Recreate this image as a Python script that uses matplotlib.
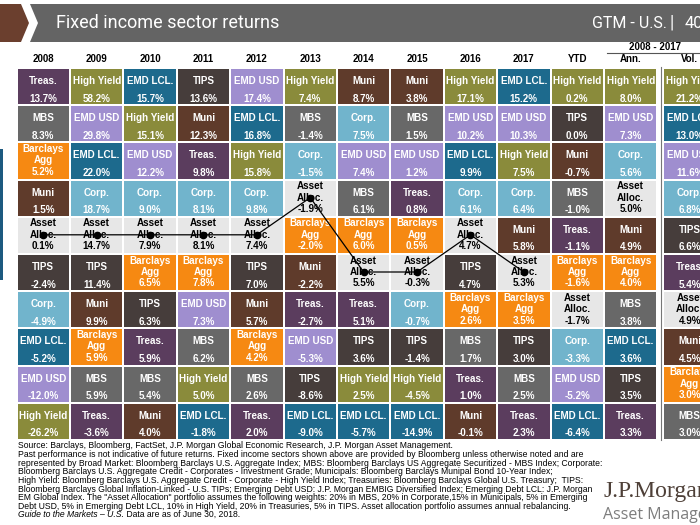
import matplotlib
matplotlib.use('Agg')
import matplotlib.pyplot as plt
from matplotlib.patches import Rectangle, Polygon

columns = ['2008', '2009', '2010', '2011', '2012', '2013', '2014', '2015',
           '2016', '2017', 'YTD', 'Ann.', 'Vol.']

sec_2008 = ['Treas.', 'MBS', 'Barclays Agg', 'Muni', 'Asset Alloc.', 'TIPS', 'Corp.', 'EMD LCL.', 'EMD USD', 'High Yield']
ret_2008 = [13.7, 8.3, 5.2, 1.5, 0.1, -2.4, -4.9, -5.2, -12.0, -26.2]
sec_2009 = ['High Yield', 'EMD USD', 'EMD LCL.', 'Corp.', 'Asset Alloc.', 'TIPS', 'Muni', 'Barclays Agg', 'MBS', 'Treas.']
ret_2009 = [58.2, 29.8, 22.0, 18.7, 14.7, 11.4, 9.9, 5.9, 5.9, -3.6]
sec_2010 = ['EMD LCL.', 'High Yield', 'EMD USD', 'Corp.', 'Asset Alloc.', 'Barclays Agg', 'TIPS', 'Treas.', 'MBS', 'Muni']
ret_2010 = [15.7, 15.1, 12.2, 9.0, 7.9, 6.5, 6.3, 5.9, 5.4, 4.0]
sec_2011 = ['TIPS', 'Muni', 'Treas.', 'Corp.', 'Asset Alloc.', 'Barclays Agg', 'EMD USD', 'MBS', 'High Yield', 'EMD LCL.']
ret_2011 = [13.6, 12.3, 9.8, 8.1, 8.1, 7.8, 7.3, 6.2, 5.0, -1.8]
sec_2012 = ['EMD USD', 'EMD LCL.', 'High Yield', 'Corp.', 'Asset Alloc.', 'TIPS', 'Muni', 'Barclays Agg', 'MBS', 'Treas.']
ret_2012 = [17.4, 16.8, 15.8, 9.8, 7.4, 7.0, 5.7, 4.2, 2.6, 2.0]
sec_2013 = ['High Yield', 'MBS', 'Corp.', 'Asset Alloc.', 'Barclays Agg', 'Muni', 'Treas.', 'EMD USD', 'TIPS', 'EMD LCL.']
ret_2013 = [7.4, -1.4, -1.5, -1.9, -2.0, -2.2, -2.7, -5.3, -8.6, -9.0]
sec_2014 = ['Muni', 'Corp.', 'EMD USD', 'MBS', 'Barclays Agg', 'Asset Alloc.', 'Treas.', 'TIPS', 'High Yield', 'EMD LCL.']
ret_2014 = [8.7, 7.5, 7.4, 6.1, 6.0, 5.5, 5.1, 3.6, 2.5, -5.7]
sec_2015 = ['Muni', 'MBS', 'EMD USD', 'Treas.', 'Barclays Agg', 'Asset Alloc.', 'Corp.', 'TIPS', 'High Yield', 'EMD LCL.']
ret_2015 = [3.8, 1.5, 1.2, 0.8, 0.5, -0.3, -0.7, -1.4, -4.5, -14.9]
sec_2016 = ['High Yield', 'EMD USD', 'EMD LCL.', 'Corp.', 'Asset Alloc.', 'TIPS', 'Barclays Agg', 'MBS', 'Treas.', 'Muni']
ret_2016 = [17.1, 10.2, 9.9, 6.1, 4.7, 4.7, 2.6, 1.7, 1.0, -0.1]
sec_2017 = ['EMD LCL.', 'EMD USD', 'High Yield', 'Corp.', 'Muni', 'Asset Alloc.', 'Barclays Agg', 'TIPS', 'MBS', 'Treas.']
ret_2017 = [15.2, 10.3, 7.5, 6.4, 5.8, 5.3, 3.5, 3.0, 2.5, 2.3]
sec_ytd = ['High Yield', 'TIPS', 'Muni', 'MBS', 'Treas.', 'Barclays Agg', 'Asset Alloc.', 'Corp.', 'EMD USD', 'EMD LCL.']
ret_ytd = [0.2, 0.0, -0.7, -1.0, -1.1, -1.6, -1.7, -3.3, -5.2, -6.4]
sec_ann = ['High Yield', 'EMD USD', 'Corp.', 'Asset Alloc.', 'Muni', 'Barclays Agg', 'MBS', 'EMD LCL.', 'TIPS', 'Treas.']
ret_ann = [8.0, 7.3, 5.6, 5.0, 4.9, 4.0, 3.8, 3.6, 3.5, 3.3]
sec_vol = ['High Yield', 'EMD LCL.', 'EMD USD', 'Corp.', 'TIPS', 'Treas.', 'Asset Alloc.', 'Muni', 'Barclays Agg', 'MBS']
ret_vol = [21.2, 13.0, 11.6, 6.8, 6.6, 5.4, 4.9, 4.5, 3.0, 3.0]

sectors = [sec_2008, sec_2009, sec_2010, sec_2011, sec_2012, sec_2013, sec_2014,
           sec_2015, sec_2016, sec_2017, sec_ytd, sec_ann, sec_vol]
returns = [ret_2008, ret_2009, ret_2010, ret_2011, ret_2012, ret_2013, ret_2014,
           ret_2015, ret_2016, ret_2017, ret_ytd, ret_ann, ret_vol]

colors = {
    'Treas.': '#5b3d5e', 'High Yield': '#8a8b3b', 'EMD LCL.': '#1d6a8d',
    'TIPS': '#463d3b', 'EMD USD': '#9f8ecf', 'Muni': '#5f3b2b',
    'MBS': '#686868', 'Barclays Agg': '#f68912', 'Corp.': '#71b4cc',
    'Asset Alloc.': '#e7e7e7',
}
labels3 = {'Barclays Agg': ('Barclays', 'Agg'), 'Asset Alloc.': ('Asset', 'Alloc.')}

footnote = [
    "Source: Barclays, Bloomberg, FactSet, J.P. Morgan Global Economic Research, J.P. Morgan Asset Management.",
    "Past performance is not indicative of future returns. Fixed income sectors shown above are provided by Bloomberg unless otherwise noted and are",
    "represented by Broad Market: Bloomberg Barclays U.S. Aggregate Index; MBS: Bloomberg Barclays US Aggregate Securitized - MBS Index; Corporate:",
    "Bloomberg Barclays U.S. Aggregate Credit - Corporates - Investment Grade; Municipals: Bloomberg Barclays Munipal Bond 10-Year Index;",
    "High Yield: Bloomberg Barclays U.S. Aggregate Credit - Corporate - High Yield Index; Treasuries: Bloomberg Barclays Global U.S. Treasury;  TIPS:",
    "Bloomberg Barclays Global Inflation-Linked - U.S. TIPs; Emerging Debt USD: J.P. Morgan EMBIG Diversified Index; Emerging Debt LCL: J.P. Morgan",
    "EM Global Index. The \"Asset Allocation\" portfolio assumes the following weights: 20% in MBS, 20% in Corporate,15% in Municipals, 5% in Emerging",
    "Debt USD, 5% in Emerging Debt LCL, 10% in High Yield, 20% in Treasuries, 5% in TIPS. Asset allocation portfolio assumes annual rebalancing.",
]

FONT = 'Liberation Sans'
FN = 6.25

fig = plt.figure(figsize=(7, 5.25), dpi=100)
ax = fig.add_axes([0, 0, 1, 1])
ax.set_xlim(0, 700)
ax.set_ylim(525, 0)
ax.axis('off')

# Title bar
ax.add_patch(Polygon([(0, 4), (21, 4), (29, 23), (21, 42), (0, 42)], closed=True,
                     facecolor='#6b3f2e', edgecolor='none'))
ax.add_patch(Polygon([(30, 4), (700, 4), (700, 42), (30, 42), (38, 23)], closed=True,
                     facecolor='#646464', edgecolor='none'))
ax.text(56, 23, 'Fixed income sector returns', color='white', fontsize=13,
        family='Roboto', va='center', ha='left')
ax.text(592, 23, 'GTM - U.S.', color='white', fontsize=11.5,
        family='Roboto', va='center', ha='left')
ax.text(672, 22, '|', color='white', fontsize=13,
        family='Roboto', va='center', ha='center')
ax.text(685, 23, '40', color='white', fontsize=12,
        family='Roboto', va='center', ha='left', clip_on=True)

# left accent bar
ax.add_patch(Rectangle((0, 149), 2.5, 131, facecolor='#1d5a80', edgecolor='none'))

# grid geometry
x0, pitch, cw = 17.5, 53.4, 51.5
y0, rpitch, ch = 69.0, 37.2, 35.2
col_left = [x0 + i * pitch for i in range(12)] + [664.0]

# headers
for i, c in enumerate(columns):
    ax.text(col_left[i] + cw / 2, 59, c, fontsize=7, fontweight='bold',
            family=FONT, ha='center', va='center', color='black')
ax.text(655, 47, '2008 - 2017', fontsize=7, fontweight='bold', family=FONT,
        ha='center', va='center')
ax.plot([607, 700], [53, 53], color='#555555', lw=0.8)
ax.plot([661, 661], [67, 440], color='#777777', lw=0.8)

# cells
for i, (secs, rets) in enumerate(zip(sectors, returns)):
    for j, (s, v) in enumerate(zip(secs, rets)):
        left = col_left[i]
        top = y0 + j * rpitch
        ax.add_patch(Rectangle((left, top), cw, ch, facecolor=colors[s],
                               edgecolor='none'))
        tc = 'black' if s == 'Asset Alloc.' else 'white'
        cx = left + cw / 2
        val = f"{v:.1f}%"
        kw = dict(fontsize=7.1, fontweight='bold', family=FONT, ha='center',
                  va='center', color=tc, clip_on=True)
        if s in labels3:
            a, b = labels3[s]
            ax.text(cx, top + 5.5, a, **kw)
            ax.text(cx, top + 17, b, **kw)
            ax.text(cx, top + 28.5, val, **kw)
        else:
            ax.text(cx, top + 12, s, **kw)
            ax.text(cx, top + 29.5, val, **kw)

# asset allocation path (2008-2017)
px, py = [], []
for i in range(10):
    j = sectors[i].index('Asset Alloc.')
    px.append(col_left[i] + cw / 2)
    py.append(y0 + j * rpitch + 17)
ax.plot(px, py, color='black', lw=0.9, marker='o', markersize=4.5, zorder=5)

# footnotes
fy = 446
for k, line in enumerate(footnote):
    ax.text(18, fy + k * 8.6, line, fontsize=FN, family=FONT, ha='left',
            va='center', color='black')
g = ax.text(18, fy + 8 * 8.6, 'Guide to the Markets \u2013 U.S.', fontsize=FN,
            family=FONT, style='italic', ha='left', va='center')
ax.annotate(' Data are as of June 30, 2018.', xy=(1, 0.5), xycoords=g,
            fontsize=FN, family=FONT, ha='left', va='center')

# logo
ax.text(603, 492, 'J.P.Morgan', fontsize=17, family='Liberation Serif',
        color='#4e4038', ha='left', va='center')
ax.text(603, 515, 'Asset Management', fontsize=11.5, family='Open Sans',
        color='#7d7d7d', ha='left', va='center', clip_on=True)

fig.savefig('out.png', dpi=100)
